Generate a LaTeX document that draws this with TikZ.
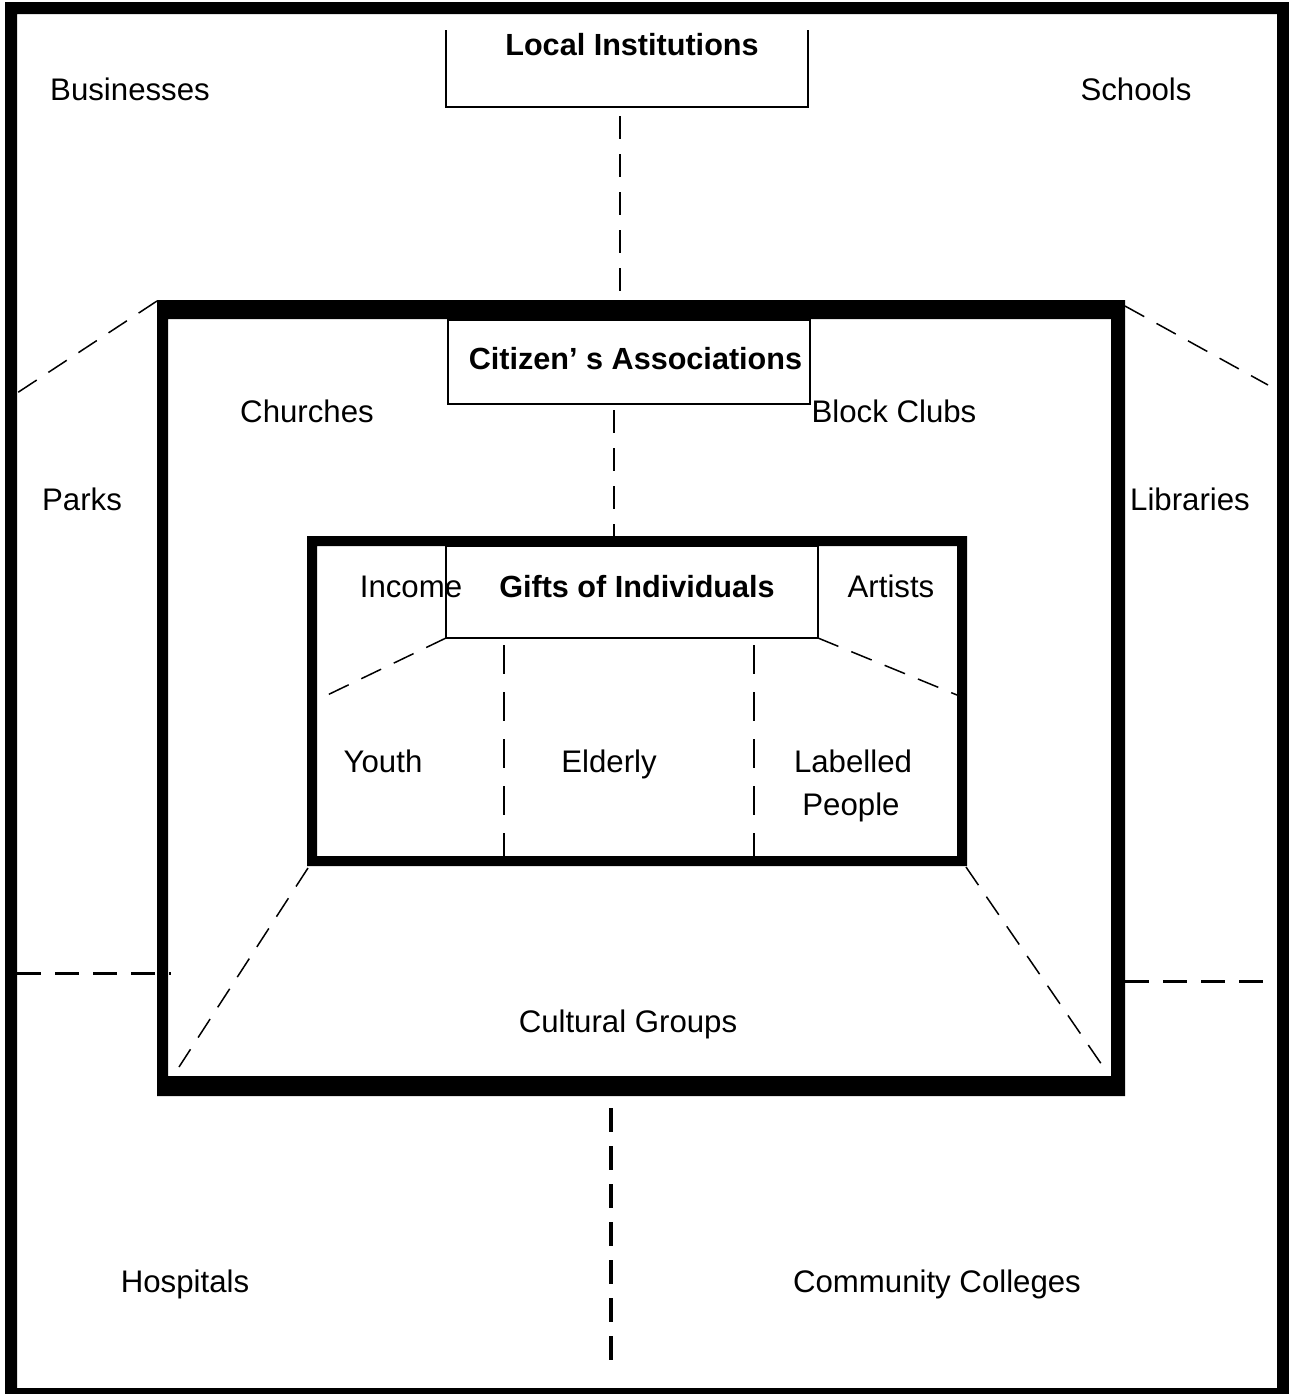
\documentclass[tikz,border=0pt]{standalone}
\usepackage{fontspec}
\setmainfont{Liberation Sans}
\begin{document}
\begin{tikzpicture}[x=0.5pt,y=-0.5pt,
  lbl/.style={font=\fontsize{15.6}{18}\selectfont, inner sep=0pt, anchor=base},
  blbl/.style={font=\fontsize{15.3}{18}\selectfont\bfseries, inner sep=0pt, anchor=base},
  boxarea/.style={rectangle, inner sep=0pt, outer sep=0pt},
  thinline/.style={line width=1pt},
  dashV/.style={line width=1pt, dash pattern=on 11.5pt off 7.5pt},
  dashIn/.style={line width=1pt, dash pattern=on 14.5pt off 9pt},
  dashDiag/.style={line width=0.75pt, dash pattern=on 11pt off 7pt},
  dashH/.style={line width=1.5pt, dash pattern=on 12pt off 7pt},
  dashB/.style={line width=2pt, dash pattern=on 12pt off 7pt},
]
\useasboundingbox (0,0) rectangle (1289,1394);
\fill[white] (0,0) rectangle (1289,1394);

% ---- boxes ----
\node[boxarea, minimum width=181pt, minimum height=38.5pt] (local) at (627,68.5) {};
\draw[thinline] (local.north west) -- (local.south west) -- (local.south east) -- (local.north east);
\node[boxarea, draw, thinline, minimum width=181pt, minimum height=42pt] (citizen) at (629,362) {};
\node[boxarea, draw, thinline, minimum width=186pt, minimum height=46pt] (gifts) at (632,592) {};

% ---- connector end points ----
\coordinate (ldashA) at (620,116);
\coordinate (ldashB) at (620,292);
\coordinate (cdashA) at (614,410);
\coordinate (cdashB) at (614,540);
\coordinate (innerL) at (317,700);
\coordinate (innerR) at (957,695);
\coordinate (vAtop) at (504,645);
\coordinate (vAbot) at (504,856);
\coordinate (vBtop) at (754,645);
\coordinate (vBbot) at (754,856);
\coordinate (midTL) at (157,301);
\coordinate (outL) at (17,393);
\coordinate (midTR) at (1125,306);
\coordinate (outR) at (1268,385);
\coordinate (innBL) at (308,868);
\coordinate (midBL) at (179,1067);
\coordinate (innBR) at (966,867);
\coordinate (midBR) at (1102,1065);
\coordinate (hLa) at (17,973);
\coordinate (hLb) at (171,973);
\coordinate (hRa) at (1125,981);
\coordinate (hRb) at (1277,981);
\coordinate (bvA) at (611,1108);
\coordinate (bvB) at (611,1362);

% ---- connectors ----
\draw[dashV] (ldashA) -- (ldashB);
\draw[dashV] (cdashA) -- (cdashB);
\draw[dashDiag] (gifts.south west) -- (innerL);
\draw[dashDiag] (gifts.south east) -- (innerR);
\draw[dashIn] (vAtop) -- (vAbot);
\draw[dashIn] (vBtop) -- (vBbot);
\draw[dashDiag] (midTL) -- (outL);
\draw[dashDiag] (midTR) -- (outR);
\draw[dashDiag] (innBL) -- (midBL);
\draw[dashDiag] (innBR) -- (midBR);
\draw[dashH] (hLa) -- (hLb);
\draw[dashH] (hRa) -- (hRb);
\draw[dashB] (bvA) -- (bvB);

% ---- frames ----
\fill[even odd rule] (5,2) rectangle (1289,1394) (17,14) rectangle (1277,1388);
\fill[even odd rule] (157,300) rectangle (1125,1096) (168,319) rectangle (1111,1076);
\fill[even odd rule] (307,536) rectangle (967,866) (317,546) rectangle (957,856);

% ---- labels ----
\node[blbl] (tlocal) at (632,55) {Local Institutions};
\node[blbl] (tcitizen) at (635.5,369) {Citizen’ s Associations};
\node[blbl] (tgifts) at (637,597) {Gifts of Individuals};
\node[lbl] (businesses) at (130,100) {Businesses};
\node[lbl] (schools) at (1136,100) {Schools};
\node[lbl] (churches) at (307,422) {Churches};
\node[lbl] (blockclubs) at (894,422) {Block Clubs};
\node[lbl] (parks) at (82,510) {Parks};
\node[lbl] (libraries) at (1190,510) {Libraries};
\node[lbl] (income) at (411,597) {Income};
\node[lbl] (artists) at (891,597) {Artists};
\node[lbl] (youth) at (383,772) {Youth};
\node[lbl] (elderly) at (609,772) {Elderly};
\node[lbl] (labelled) at (853,772) {Labelled};
\node[lbl] (people) at (851,815) {People};
\node[lbl] (cultural) at (628,1032) {Cultural Groups};
\node[lbl] (hospitals) at (185,1292) {Hospitals};
\node[lbl] (colleges) at (937,1292) {Community Colleges};
\end{tikzpicture}
\end{document}
